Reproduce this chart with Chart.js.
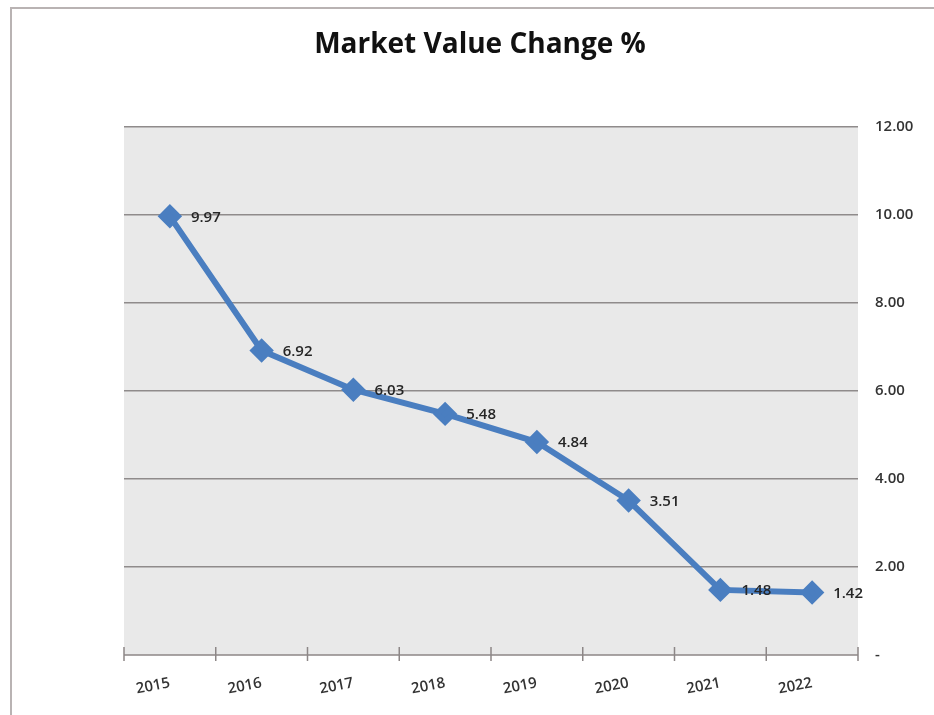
<!DOCTYPE html>
<html>
<head>
<meta charset="utf-8">
<script src="https://cdn.jsdelivr.net/npm/chart.js@4.4.1/dist/chart.umd.min.js"></script>
<style>
  html, body { margin: 0; padding: 0; background: #fff; }
  #wrap { position: relative; width: 934px; height: 715px; }
  #frame { position: absolute; left: 10px; top: 7px; width: 1000px; height: 800px;
           border-left: 2px solid #b9b3b3; border-top: 2px solid #b9b3b3; }
  canvas { position: absolute; left: 0; top: 0; }
</style>
</head>
<body>
<div id="wrap">
  <div id="frame"></div>
  <canvas id="myChart" width="934" height="715"></canvas>
</div>
<script>
const years = ['2015', '2016', '2017', '2018', '2019', '2020', '2021', '2022'];
const changePct = [9.97, 6.92, 6.03, 5.48, 4.84, 3.51, 1.48, 1.42];
const yTicks = [0, 2, 4, 6, 8, 10, 12];
const chartTitle = 'Market Value Change %';

const plotBg = {
    id: 'plotBg',
    beforeDraw(chart) {
        const { ctx, chartArea: a } = chart;
        ctx.save();
        ctx.fillStyle = '#e9e9e9';
        ctx.fillRect(a.left, a.top, a.right - a.left, a.bottom - a.top);
        // title, centred on the page rather than the plot
        ctx.font = 'bold 28px "Open Sans", sans-serif';
        ctx.fillStyle = '#111';
        ctx.textAlign = 'center';
        ctx.textBaseline = 'middle';
        ctx.fillText(chartTitle, 480, 45);
        ctx.restore();
    }
};

// small tick marks crossing the x axis line at category edges
const xTickMarks = {
    id: 'xTickMarks',
    afterDatasetsDraw(chart) {
        const { ctx, chartArea: a, scales } = chart;
        const xs = scales.x;
        const half = (xs.getPixelForValue(1) - xs.getPixelForValue(0)) / 2;
        ctx.save();
        ctx.strokeStyle = '#8d8787';
        ctx.lineWidth = 1.5;
        ctx.beginPath();
        ctx.moveTo(a.left, a.bottom);
        ctx.lineTo(a.right, a.bottom);
        for (let i = 0; i <= years.length; i++) {
            const x = xs.getPixelForValue(i) - half;
            ctx.moveTo(x, a.bottom - 8);
            ctx.lineTo(x, a.bottom + 6);
        }
        ctx.stroke();
        ctx.restore();
    }
};

const valueLabels = {
    id: 'valueLabels',
    afterDatasetsDraw(chart) {
        const { ctx } = chart;
        const meta = chart.getDatasetMeta(0);
        ctx.save();
        ctx.font = '600 15px "Open Sans", sans-serif';
        ctx.fillStyle = '#262626';
        ctx.textAlign = 'left';
        ctx.textBaseline = 'middle';
        meta.data.forEach((pt, i) => {
            ctx.fillText(changePct[i].toFixed(2), pt.x + 21, pt.y + 1);
        });
        ctx.restore();
    }
};

const ctx = document.getElementById('myChart');

const myChart = new Chart(ctx, {
    type: 'line',
    data: {
        labels: years,
        datasets: [
            {
                label: chartTitle,
                data: changePct,
                borderColor: '#4a7ec0',
                backgroundColor: '#4a7ec0',
                borderWidth: 6,
                pointStyle: 'rectRot',
                pointRadius: 8,
                pointHoverRadius: 8,
                tension: 0,
            },
        ]
    },
    options: {
        responsive: false,
        animation: false,
        events: [],
        layout: { padding: { left: 124, top: 127, right: 0, bottom: 0 } },
        plugins: {
            legend: { display: false },
            tooltip: { enabled: false },
            title: { display: false },
        },
        scales: {
            x: {
                offset: true,
                grid: { display: false, drawTicks: false },
                border: { display: false },
                ticks: {
                    color: '#333',
                    font: { family: '"Open Sans", sans-serif', size: 15, weight: '600' },
                    minRotation: 11,
                    maxRotation: 11,
                    padding: 19,
                },
                afterFit(scale) { scale.height = 60; },
            },
            y: {
                position: 'right',
                min: 0,
                max: 12,
                afterBuildTicks(scale) { scale.ticks = yTicks.map(v => ({ value: v })); },
                grid: {
                    color: ctx => ctx.tick && ctx.tick.value === 0 ? 'rgba(0,0,0,0)' : '#8f8b8b',
                    lineWidth: 1.5,
                    drawTicks: false,
                },
                border: { display: false },
                ticks: {
                    color: '#333',
                    font: { family: '"Open Sans", sans-serif', size: 15, weight: '600' },
                    padding: 17,
                    callback: v => v === 0 ? '-' : v.toFixed(2),
                },
                afterFit(scale) { scale.width = 76; },
            }
        }
    },
    plugins: [plotBg, xTickMarks, valueLabels]
});
</script>
</body>
</html>
